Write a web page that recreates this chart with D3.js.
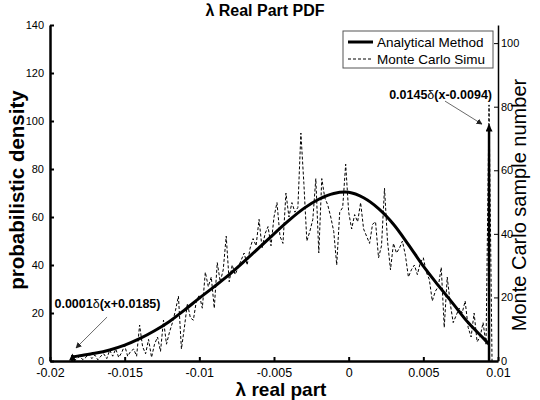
<!DOCTYPE html>
<html>
<head>
<meta charset="utf-8">
<script src="https://cdn.jsdelivr.net/npm/d3@7"></script>
<style>
  body { margin: 0; background: #fff; }
  svg { font-family: "Liberation Sans", Arial, sans-serif; }
</style>
</head>
<body>
<svg id="chart" width="540" height="400"></svg>
<script>
// axis ticks
const xTicks = [-0.02, -0.015, -0.01, -0.005, 0, 0.005, 0.01];
const leftTicks = [0, 20, 40, 60, 80, 100, 120, 140];
const rightTicks = [0, 20, 40, 60, 80, 100];
const rightMax = 105.7; // sample number that lines up with density 140

// analytical pdf
const curveX = [-0.0185, -0.018, -0.017, -0.016, -0.015, -0.014, -0.013, -0.012, -0.011, -0.010,
  -0.009, -0.008, -0.007, -0.006, -0.005, -0.004, -0.003, -0.002, -0.001, 0,
  0.001, 0.002, 0.003, 0.004, 0.005, 0.006, 0.007, 0.008, 0.009, 0.0094];
const curveY = [1.7, 2.2, 3.2, 4.6, 6.6, 9.3, 12.6, 16.5, 21.2, 26.2,
  31, 36, 41.5, 47.2, 53, 58.6, 63.6, 67.4, 69.8, 70.3,
  68, 63.5, 57, 48.5, 39.5, 31.5, 23.8, 16, 9.6, 7];

// monte carlo histogram (density units), bins of 0.0002 starting at -0.0184
const mcStart = -0.0184;
const mcStep = 0.0002;
const mcY = [
  0, 1, 2, 0.5, 1.5, 3, 1, 2.5, 0.5, 2,
  3, 1, 4.5, 2, 5, 1.5, 3.5, 6.5, 2, 4,
  5, 2, 15, 6, 3, 9, 1.5, 7, 10, 4,
  17, 7, 12, 16, 21, 27, 5, 14, 24, 18,
  17, 25, 27.5, 22, 37, 31, 35, 22, 41, 33,
  38, 52, 33, 40, 36, 39, 42, 45, 40, 47,
  51, 48, 59, 47, 53, 56, 48, 60, 66, 52,
  49, 70, 60, 66, 62, 64, 95, 74, 50, 54,
  59, 76, 45, 76, 68, 65, 60, 54, 40, 62,
  64, 82, 62, 55, 61, 58, 66, 55, 52, 49,
  57, 58, 43, 48, 72, 50, 38, 49, 45, 47,
  50, 44, 35, 38, 40, 36, 41, 43, 37, 34,
  25, 29, 31, 39, 14, 35, 24, 16, 19, 22,
  20, 25, 14, 10, 20, 8, 10, 16, 7, 106.7,
  0
];

// delta terms
const deltas = [
  {x: -0.0185, h: 2.5},
  {x: 0.0094, h: 98}
];
const notes = [
  {w: '0.0001', arg: '(x+0.0185)', x: -0.0197, y: 22, anchor: 'start', fx: -0.01618, fy: 18.3, tx: -0.01826, ty: 5.4},
  {w: '0.0145', arg: '(x-0.0094)', x: 0.00960, y: 109, anchor: 'end', fx: 0.00645, fy: 108.3, tx: 0.00893, ty: 98.7}
];

const svg = d3.select('#chart');
const mLeft = 50, mRight = 498, mTop = 25, mBottom = 361;

const x = d3.scaleLinear().domain([-0.02, 0.01]).range([mLeft, mRight]);
const y = d3.scaleLinear().domain([0, 140]).range([mBottom, mTop]);
const yR = d3.scaleLinear().domain([0, rightMax]).range([mBottom, mTop]);

const defs = svg.append('defs');
defs.append('marker')
  .attr('id', 'head')
  .attr('viewBox', '0 0 10 10')
  .attr('refX', 9).attr('refY', 5)
  .attr('markerWidth', 6).attr('markerHeight', 6)
  .attr('markerUnits', 'userSpaceOnUse')
  .attr('orient', 'auto')
  .append('path').attr('d', 'M0,0L10,5L0,10z').attr('fill', '#222');
defs.append('marker')
  .attr('id', 'bighead')
  .attr('viewBox', '0 0 10 10')
  .attr('refX', 8).attr('refY', 5)
  .attr('markerWidth', 8).attr('markerHeight', 7)
  .attr('markerUnits', 'userSpaceOnUse')
  .attr('orient', 'auto')
  .append('path').attr('d', 'M0,0L10,5L0,10z').attr('fill', '#000');

// monte carlo dashed line
const mc = mcY.map((v, i) => ({x: mcStart + i * mcStep, y: v}));
svg.append('path')
  .datum(mc)
  .attr('fill', 'none')
  .attr('stroke', '#000')
  .attr('stroke-width', 1)
  .attr('stroke-dasharray', '3,2')
  .attr('d', d3.line().x(d => x(d.x)).y(d => y(d.y)));

// analytical curve
svg.append('path')
  .datum(curveX.map((v, i) => ({x: v, y: curveY[i]})))
  .attr('fill', 'none')
  .attr('stroke', '#000')
  .attr('stroke-width', 3)
  .attr('d', d3.line().curve(d3.curveCatmullRom.alpha(0.5)).x(d => x(d.x)).y(d => y(d.y)));

// delta arrows
svg.selectAll('.delta')
  .data(deltas)
  .enter()
  .append('line')
  .attr('class', 'delta')
  .attr('x1', d => x(d.x)).attr('x2', d => x(d.x))
  .attr('y1', y(0)).attr('y2', d => y(d.h))
  .attr('stroke', '#000')
  .attr('stroke-width', 2.5)
  .attr('marker-end', 'url(#bighead)');

// axes
const gx = svg.append('g')
  .attr('transform', `translate(0,${mBottom})`)
  .call(d3.axisBottom(x).tickValues(xTicks).tickFormat(d => String(d))
    .tickSizeInner(-4).tickSizeOuter(0).tickPadding(7));
gx.select('.domain').attr('stroke-width', 2.5);
gx.selectAll('.tick line').attr('stroke-width', 2);
gx.selectAll('text').attr('font-size', 12.5).attr('fill', '#000')
  .attr('font-family', '"Liberation Sans", Arial, sans-serif');

const gy = svg.append('g')
  .attr('transform', `translate(${mLeft},0)`)
  .call(d3.axisLeft(y).tickValues(leftTicks).tickSizeInner(-4).tickSizeOuter(0).tickPadding(6));
gy.select('.domain').attr('stroke-width', 2.5);
gy.selectAll('.tick line').attr('stroke-width', 2);
gy.selectAll('text').attr('font-size', 11).attr('fill', '#000')
  .attr('font-family', '"Liberation Sans", Arial, sans-serif');

const gr = svg.append('g')
  .attr('transform', `translate(${mRight},0)`)
  .call(d3.axisRight(yR).tickValues(rightTicks).tickSizeInner(-4).tickSizeOuter(0).tickPadding(3));
gr.select('.domain').attr('stroke-width', 1.5);
gr.selectAll('.tick line').attr('stroke-width', 1);
gr.selectAll('text').attr('font-size', 11).attr('fill', '#000')
  .attr('font-family', '"Liberation Sans", Arial, sans-serif');

// annotations
notes.forEach(n => {
  const t = svg.append('text')
    .attr('x', x(n.x)).attr('y', y(n.y))
    .attr('text-anchor', n.anchor)
    .attr('font-size', 12.5)
    .attr('font-weight', 'bold');
  t.append('tspan').text(n.w);
  t.append('tspan').attr('font-weight', 'normal').text('δ');
  t.append('tspan').text(n.arg);
  svg.append('line')
    .attr('x1', x(n.fx)).attr('y1', y(n.fy))
    .attr('x2', x(n.tx)).attr('y2', y(n.ty))
    .attr('stroke', '#444').attr('stroke-width', 0.8)
    .attr('marker-end', 'url(#head)');
});

// legend
const lg = svg.append('g').attr('transform', 'translate(343,31)');
lg.append('rect')
  .attr('width', 150).attr('height', 37)
  .attr('fill', '#fff').attr('stroke', '#555').attr('stroke-width', 1);
const items = [
  {label: 'Analytical Method', w: 3, dash: null},
  {label: 'Monte Carlo Simu', w: 1, dash: '3,2'}
];
items.forEach((it, i) => {
  lg.append('line')
    .attr('x1', 5).attr('x2', 30)
    .attr('y1', 11 + i * 17).attr('y2', 11 + i * 17)
    .attr('stroke', '#000').attr('stroke-width', it.w)
    .attr('stroke-dasharray', it.dash);
  lg.append('text')
    .attr('x', 34).attr('y', 16 + i * 17)
    .attr('font-size', 13.5)
    .text(it.label);
});

// titles
svg.append('text')
  .attr('x', 265).attr('y', 16)
  .attr('text-anchor', 'middle')
  .attr('font-size', 16).attr('font-weight', 'bold')
  .text('λ Real Part PDF');
svg.append('text')
  .attr('x', 281).attr('y', 396)
  .attr('text-anchor', 'middle')
  .attr('font-size', 19).attr('font-weight', 'bold')
  .text('λ real part');
svg.append('text')
  .attr('transform', 'translate(24,190) rotate(-90)')
  .attr('text-anchor', 'middle')
  .attr('font-size', 20.5).attr('font-weight', 'bold')
  .text('probabilistic density');
svg.append('text')
  .attr('transform', 'translate(526,205) rotate(-90)')
  .attr('text-anchor', 'middle')
  .attr('font-size', 20)
  .text('Monte Carlo sample number');
</script>
</body>
</html>
